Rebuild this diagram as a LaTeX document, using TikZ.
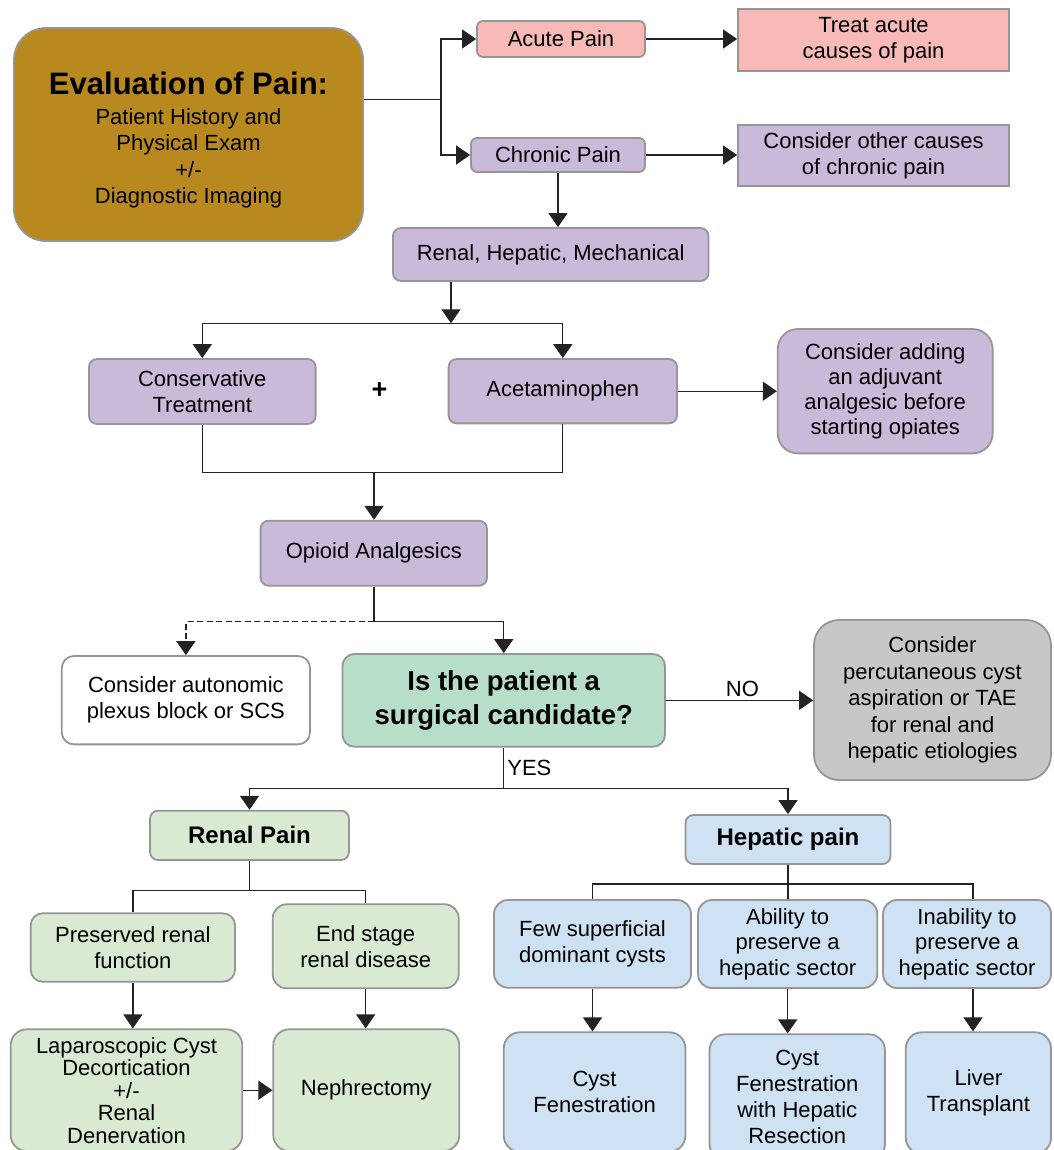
\documentclass[tikz,border=0pt]{standalone}
\usepackage{fontspec}
\setmainfont{Liberation Sans}
\usetikzlibrary{arrows.meta}
\definecolor{cgold}{RGB}{184,137,30}
\definecolor{cpink}{RGB}{248,186,182}
\definecolor{cpurple}{RGB}{201,186,218}
\definecolor{cgreen}{RGB}{182,222,200}
\definecolor{clgreen}{RGB}{217,234,211}
\definecolor{clblue}{RGB}{207,226,243}
\definecolor{cgray}{RGB}{199,199,199}
\definecolor{cborder}{RGB}{150,150,150}
\definecolor{cline}{RGB}{35,35,35}
\tikzset{
  box/.style={draw=cborder, line width=1.8pt, align=center, inner sep=0pt, text=black,
    font=\fontsize{22pt}{26pt}\selectfont},
  conn/.style={line width=1.3pt, draw=cline, -{Triangle[width=19pt,length=14pt]}},
  plain/.style={line width=1.3pt, draw=cline},
  lbl/.style={font=\fontsize{22pt}{26pt}\selectfont, inner sep=3pt}
}
\begin{document}
\begin{tikzpicture}[x=1pt,y=-1pt]
\useasboundingbox (0,0) rectangle (1053,1150);
\clip (0,0) rectangle (1053,1150);
\fill[white] (0,0) rectangle (1053,1150);

% top part
\node[box, fill=cgold, rounded corners=32pt, minimum width=349pt, minimum height=213pt] (eval) at (188.5,134.5) {};
\node[align=center, inner sep=0pt, font=\fontsize{22pt}{26.5pt}\selectfont] (evaltxt) at (188.5,140)
  {{\fontsize{31pt}{31pt}\selectfont\bfseries Evaluation of Pain:}\\[3.5pt]
   Patient History and\\ Physical Exam\\ +/-\\ Diagnostic Imaging};
\node[box, fill=cpink, rounded corners=6pt, minimum width=168pt, minimum height=36pt] (acute) at (561,39) {Acute Pain};
\node[box, fill=cpink, minimum width=271pt, minimum height=62pt] (treat) at (873.5,40) {Treat acute\\causes of pain};
\node[box, fill=cpurple, rounded corners=6pt, minimum width=174pt, minimum height=34pt] (chronic) at (558,155) {Chronic Pain};
\node[box, fill=cpurple, minimum width=271pt, minimum height=61pt] (other) at (873.5,155.5) {Consider other causes\\of chronic pain};
\node[box, fill=cpurple, rounded corners=8pt, minimum width=315.5pt, minimum height=53pt] (rhm) at (550.75,254.5) {Renal, Hepatic, Mechanical};
\node[box, fill=cpurple, rounded corners=8pt, minimum width=226.6pt, minimum height=65pt] (cons) at (202.3,391.5) {Conservative\\Treatment};
\node[box, fill=cpurple, rounded corners=8pt, minimum width=228.4pt, minimum height=64.3pt] (acet) at (562.8,391.2) {Acetaminophen};
\node[lbl, font=\fontsize{27pt}{28pt}\selectfont\bfseries] (plus) at (379.5,391) {+};
\node[box, fill=cpurple, rounded corners=20pt, minimum width=214.9pt, minimum height=124.3pt, font=\fontsize{22pt}{25pt}\selectfont] (adding) at (885.2,391.2)
  {Consider adding\\an adjuvant\\analgesic before\\starting opiates};
\node[box, fill=cpurple, rounded corners=8pt, minimum width=226.4pt, minimum height=65pt] (opioid) at (373.8,553.2) {Opioid Analgesics};

% middle
\node[box, fill=white, rounded corners=12pt, minimum width=248.2pt, minimum height=88.3pt] (auto) at (185.9,700.2) {Consider autonomic\\plexus block or SCS};
\node[box, fill=cgreen, rounded corners=12pt, minimum width=322.5pt, minimum height=92.7pt,
  font=\fontsize{27.5pt}{34pt}\selectfont\bfseries] (surg) at (503.75,700.35) {Is the patient a\\surgical candidate?};
\node[box, fill=cgray, rounded corners=25pt, minimum width=237pt, minimum height=160pt, font=\fontsize{22pt}{26.5pt}\selectfont] (perc) at (932.5,700)
  {Consider\\percutaneous cyst\\aspiration or TAE\\for renal and\\hepatic etiologies};

% renal branch
\node[box, fill=clgreen, rounded corners=8pt, minimum width=199pt, minimum height=49.3pt, font=\fontsize{24pt}{26pt}\selectfont\bfseries] (renal) at (249.5,835.35) {Renal Pain};
\node[box, fill=clgreen, rounded corners=12pt, minimum width=204.3pt, minimum height=68.4pt] (pres) at (132.85,947.5) {Preserved renal\\function};
\node[box, fill=clgreen, rounded corners=14pt, minimum width=186pt, minimum height=84pt] (esrd) at (365.7,946.3) {End stage\\renal disease};
\node[box, fill=clgreen, rounded corners=16pt, minimum width=231.6pt, minimum height=121.8pt, font=\fontsize{22pt}{22.5pt}\selectfont] (lap) at (126.5,1090.2)
  {Laparoscopic Cyst\\Decortication\\+/-\\Renal\\Denervation};
\node[box, fill=clgreen, rounded corners=16pt, minimum width=186pt, minimum height=121.8pt] (neph) at (366.3,1090.2) {Nephrectomy};

% hepatic branch
\node[box, fill=clblue, rounded corners=8pt, minimum width=205pt, minimum height=49pt, font=\fontsize{24pt}{26pt}\selectfont\bfseries] (hep) at (788,839.5) {Hepatic pain};
\node[box, fill=clblue, rounded corners=14pt, minimum width=197pt, minimum height=87.7pt] (few) at (592.5,943.85) {Few superficial\\dominant cysts};
\node[box, fill=clblue, rounded corners=14pt, minimum width=179.3pt, minimum height=88pt, font=\fontsize{22pt}{25.5pt}\selectfont] (abil) at (787.65,944) {Ability to\\preserve a\\hepatic sector};
\node[box, fill=clblue, rounded corners=14pt, minimum width=168pt, minimum height=88pt, font=\fontsize{22pt}{25.5pt}\selectfont] (inab) at (967,944) {Inability to\\preserve a\\hepatic sector};
\node[box, fill=clblue, rounded corners=16pt, minimum width=181.6pt, minimum height=119.4pt] (cf1) at (594.6,1092) {Cyst\\Fenestration};
\node[box, fill=clblue, rounded corners=16pt, minimum width=175.5pt, minimum height=125.4pt] (cf2) at (797.25,1097) {Cyst\\Fenestration\\with Hepatic\\Resection};
\node[box, fill=clblue, rounded corners=16pt, minimum width=145.2pt, minimum height=121.4pt] (lt) at (978.4,1093) {Liver\\Transplant};

% junctions
\coordinate (s0) at (441,99.5);
\coordinate (j1) at (451,323.3);
\coordinate (j2) at (374,472.7);
\coordinate (j3) at (374,621.7);
\coordinate (j4) at (503.7,788.3);
\coordinate (j5) at (249.5,890.7);
\coordinate (j6) at (788,884);

% connectors
\draw[plain] (eval.east |- s0) -- (s0);
\draw[conn] (s0) |- (acute.west);
\draw[conn] (s0) |- (chronic.west);
\draw[conn] (acute.east) -- (acute.east -| treat.west);
\draw[conn] (chronic.east) -- (chronic.east -| other.west);
\draw[conn] (chronic.south) -- (chronic.south |- rhm.north);
\draw[conn] (rhm.south -| j1) -- (j1);
\draw[conn] (j1) -| (cons.north);
\draw[conn] (j1) -| (acet.north);
\draw[conn] (acet.east) -- (acet.east -| adding.west);
\draw[plain] (cons.south) |- (j2) -| (acet.south);
\draw[conn] (j2) -- (j2 |- opioid.north);
\draw[plain] (opioid.south -| j3) -- (j3);
\draw[conn] (j3) -| (surg.north);
\draw[conn, dash pattern=on 6pt off 3.5pt] (j3) -| (auto.north);
\draw[conn] (surg.east) -- (surg.east -| perc.west) node[lbl, pos=0.52, above] (no) {NO};
\draw[plain] (surg.south -| j4) -- (j4) node[lbl, midway, right] (yes) {YES};
\draw[conn] (j4) -| (renal.north);
\draw[conn] (j4) -| (hep.north);
\draw[plain] (renal.south) -- (j5);
\draw[plain] (j5) -| (pres.north);
\draw[plain] (j5) -| (esrd.north);
\draw[conn] (pres.south) -- (pres.south |- lap.north);
\draw[conn] (esrd.south) -- (esrd.south |- neph.north);
\draw[conn] (lap.east) -- (neph.west);
\draw[plain] (hep.south) -- (j6);
\draw[plain] (j6) -| (few.north);
\draw[plain] (j6) -- (j6 |- abil.north);
\draw[plain] (j6) -| ([xshift=6pt]inab.north);
\draw[conn] (few.south) -- (few.south |- cf1.north);
\draw[conn] (abil.south) -- (abil.south |- cf2.north);
\draw[conn] ([xshift=6pt]inab.south) -- ([xshift=6pt]inab.south |- lt.north);
\end{tikzpicture}
\end{document}
